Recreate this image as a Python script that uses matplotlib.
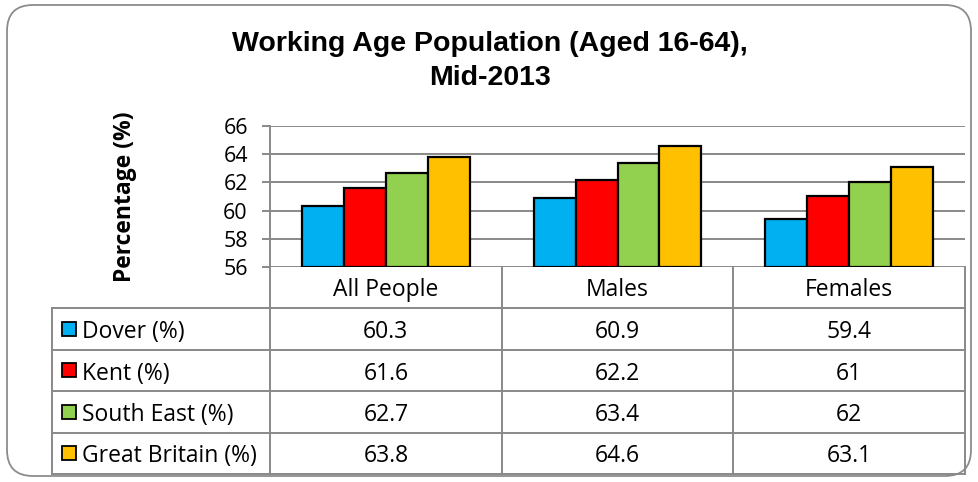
import matplotlib.pyplot as plt
import numpy as np
from matplotlib.patches import FancyBboxPatch, Rectangle

# data
categories = ["All People", "Males", "Females"]
series_names = ["Dover (%)", "Kent (%)", "South East (%)", "Great Britain (%)"]
dover = [60.3, 60.9, 59.4]
kent = [61.6, 62.2, 61]
south_east = [62.7, 63.4, 62]
great_britain = [63.8, 64.6, 63.1]
colors = ["#00B0F0", "#FF0000", "#92D050", "#FFC000"]
yticks = [56, 58, 60, 62, 64, 66]

W, H = 979, 482
GRID = "#898989"
BODY = "Open Sans"
FS = 16.5

fig = plt.figure(figsize=(W / 100, H / 100), dpi=100)

# overlay in pixel coordinates (y down) for frame, title and table
over = fig.add_axes([0, 0, 1, 1])
over.set_xlim(0, W)
over.set_ylim(H, 0)
over.axis("off")

over.add_patch(FancyBboxPatch((7, 5), 964, 471,
                              boxstyle="round,pad=0,rounding_size=26",
                              fc="white", ec="#8c8c8c", lw=1.3))

over.text(490, 51, "Working Age Population (Aged 16-64),", ha="center", va="baseline",
          fontsize=20.5, fontweight="bold", family="Liberation Sans")
over.text(490, 85, "Mid-2013", ha="center", va="baseline",
          fontsize=20.5, fontweight="bold", family="Liberation Sans")

# chart area
ax_l, ax_r, ax_t, ax_b = 270, 965, 126, 267
ax = fig.add_axes([ax_l / W, (H - ax_b) / H, (ax_r - ax_l) / W, (ax_b - ax_t) / H])
ax.patch.set_alpha(0)

values = [dover, kent, south_east, great_britain]
x = np.arange(len(categories))
bw = 0.181
for i, (vals, c) in enumerate(zip(values, colors)):
    ax.bar(x + (i - 1.5) * bw, np.array(vals) - 56, bottom=56, width=bw,
           color=c, edgecolor="black", linewidth=1.6, zorder=3)

ax.set_xlim(-0.5, len(categories) - 0.5)
ax.set_ylim(56, 66)
ax.set_yticks(yticks)
ax.set_yticklabels([str(t) for t in yticks], family=BODY, fontsize=FS - 1)
ax.set_xticks([])
ax.grid(axis="y", color=GRID, linewidth=1.4, zorder=0)
for s in ["top", "right", "bottom"]:
    ax.spines[s].set_visible(False)
ax.spines["left"].set_color(GRID)
ax.spines["left"].set_linewidth(1.4)
ax.tick_params(axis="y", length=6, width=1.4, color=GRID, pad=10)
ax.set_ylabel("Percentage (%)", family=BODY, fontsize=FS, fontweight="bold")
ax.yaxis.set_label_coords((137 - ax_l) / (ax_r - ax_l), 0.5)

# data table
row_top = 308
row_h = 41.5
col_w = (ax_r - ax_l) / len(categories)
lab_l = 52
n_rows = len(series_names)
tab_b = row_top + n_rows * row_h

over.plot([ax_l, ax_l], [ax_b, tab_b], color=GRID, lw=1.4)
for j in range(1, len(categories) + 1):
    xx = ax_l + j * col_w
    over.plot([xx, xx], [ax_b, tab_b], color=GRID, lw=1.4)
over.plot([lab_l, lab_l], [row_top, tab_b], color=GRID, lw=1.4)
for r in range(n_rows + 1):
    yy = row_top + r * row_h
    over.plot([lab_l, ax_r], [yy, yy], color=GRID, lw=1.4)

for j, cat in enumerate(categories):
    over.text(ax_l + (j + 0.5) * col_w, ax_b + 29, cat,
              ha="center", va="baseline", family=BODY, fontsize=FS)

for r, (name, vals, c) in enumerate(zip(series_names, values, colors)):
    yt = row_top + r * row_h
    yc = yt + 0.5 * row_h
    over.add_patch(Rectangle((62, yc - 7), 14, 14, fc=c, ec="black", lw=1.3))
    over.text(82, yt + 30, name, ha="left", va="baseline", family=BODY, fontsize=FS)
    for j, v in enumerate(vals):
        over.text(ax_l + (j + 0.5) * col_w, yt + 30, f"{v:g}",
                  ha="center", va="baseline", family=BODY, fontsize=FS)

fig.savefig("out.png", dpi=100)
